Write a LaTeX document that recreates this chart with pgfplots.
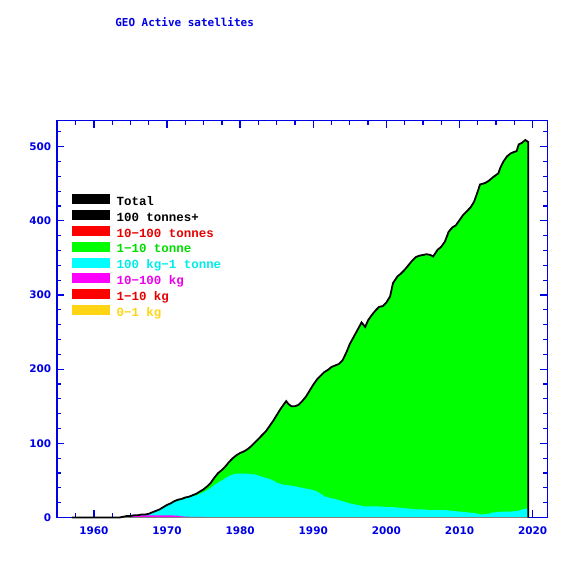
\documentclass[border=0pt]{standalone}
\usepackage{fontspec}
\setmainfont{DejaVu Sans}
\newfontfamily\titlefont{DejaVu Sans Mono}
\newfontfamily\legfont{Liberation Mono}
\usepackage{pgfplots}
\usepackage{pgfplotstable}
\pgfplotsset{compat=1.18}
\definecolor{axblue}{RGB}{0,0,230}
\definecolor{gfill}{RGB}{0,255,0}
\definecolor{cfill}{RGB}{0,255,255}
\definecolor{mfill}{RGB}{255,0,255}
\definecolor{rfill}{RGB}{255,0,0}
\definecolor{yfill}{RGB}{255,212,20}
\definecolor{gtext}{RGB}{0,220,0}
\definecolor{ctext}{RGB}{0,235,235}
\definecolor{mtext}{RGB}{235,0,235}
\definecolor{rtext}{RGB}{230,0,0}

\pgfplotstableread{
x y
1957.0 0
1963.5 0
1964.0 1
1964.5 2
1965.0 2
1965.5 3
1966.0 3
1966.5 4
1967.0 4
1967.5 5
1968.0 7
1968.5 9
1969.0 11
1969.5 14
1970.0 17
1970.5 19
1971.0 22
1971.5 24
1972.0 25
1972.5 27
1973.0 28
1973.5 30
1974.0 32
1974.5 35
1975.0 38
1975.5 42
1976.0 47
1976.5 54
1977.0 60
1977.5 64
1978.0 69
1978.5 75
1979.0 80
1979.5 84
1980.0 87
1980.5 89
1981.0 92
1981.5 96
1982.0 101
1982.5 106
1983.0 111
1983.5 116
1984.0 123
1984.5 130
1985.0 138
1985.5 146
1986.0 153
1986.3 157
1986.6 153
1987.0 150
1987.5 150
1988.0 152
1988.5 157
1989.0 163
1989.5 171
1990.0 179
1990.5 186
1991.0 191
1991.5 196
1992.0 199
1992.5 203
1993.0 205
1993.5 207
1994.0 212
1994.5 222
1995.0 234
1995.5 243
1996.0 252
1996.6 263
1997.1 257
1997.5 266
1998.0 273
1998.5 279
1999.0 284
1999.5 285
2000.0 290
2000.5 298
2000.9 316
2001.5 325
2002.0 329
2002.5 334
2003.0 340
2003.5 346
2004.0 351
2004.5 353
2005.0 354
2005.5 355
2006.0 354
2006.4 352
2007.0 361
2007.5 365
2008.0 372
2008.5 385
2009.0 391
2009.5 394
2010.0 401
2010.5 408
2011.0 413
2011.5 418
2012.0 426
2012.5 440
2012.8 449
2013.5 451
2014.0 454
2014.6 459
2015.3 464
2015.6 472
2016.0 480
2016.5 487
2017.0 491
2017.5 493
2017.8 494
2018.1 503
2018.5 505
2019.0 509
2019.4 506
2019.4 0
}\total

\pgfplotstableread{
x y
1964.0 1
1965.0 2
1966.0 3
1967.0 4
1968.0 7
1969.0 11
1970.0 16
1971.0 21
1972.0 24
1973.0 27
1974.0 30
1975.0 34
1975.5 37
1976.0 40
1976.5 44
1977.0 47
1977.5 50
1978.0 53
1978.5 56
1979.0 58
1979.5 59
1980.0 59
1981.0 59
1982.0 58
1983.0 55
1984.0 52
1984.5 50
1985.0 47
1986.0 44
1987.0 43
1988.0 41
1989.0 39
1990.0 37
1990.5 35
1991.0 32
1991.5 29
1992.0 27
1993.0 25
1994.0 22
1995.0 19
1996.0 17
1997.0 15
1998.0 15
1999.0 15
2000.0 14
2001.0 14
2002.0 13
2003.0 12
2004.0 11
2005.0 11
2006.0 10
2007.0 10
2008.0 10
2009.0 9
2010.0 8
2011.0 7
2012.0 6
2013.0 4
2014.0 5
2014.6 7
2015.0 7
2016.0 8
2017.0 8
2018.0 9
2019.0 12
2019.4 12
}\cyanlayer

\pgfplotstableread{
x y
1965.0 0
1965.5 2.5
1966.0 3
1968.0 3
1970.0 3
1971.5 2.5
1972.0 1.5
1973.0 1
1975.0 1
1975.5 0
}\magentalayer

\pgfplotstableread{
x y
1963.5 0
2019.4 0
}\baseline

\begin{document}
\begin{tikzpicture}
\useasboundingbox (-57.3bp,-58.5bp) rectangle (518.7bp,517.5bp);
\begin{axis}[
  at={(0,0)}, anchor=south west,
  scale only axis, width=490bp, height=396.8bp,
  xmin=1955, xmax=2022, ymin=0, ymax=535,
  clip=false,
  axis on top=false,
  axis line style={axblue, line width=1.6bp},
  xtick={1960,1970,...,2020},
  minor xtick={1957.5,1962.5,1965,1967.5,1972.5,1975,1977.5,1982.5,1985,1987.5,1992.5,1995,1997.5,2002.5,2005,2007.5,2012.5,2015,2017.5},
  ytick={0,100,...,500},
  minor ytick={20,40,...,520},
  tick align=inside,
  xtick pos=both, ytick pos=both,
  xticklabel pos=lower, yticklabel pos=left,
  major tick length=7bp, minor tick length=4bp,
  every tick/.style={axblue, line width=1.3bp},
  every minor tick/.style={axblue, line width=1.3bp},
  /pgf/number format/assume math mode=true,
  /pgf/number format/1000 sep={},
  ticklabel style={font=\bfseries\fontsize{10.5}{12}\selectfont, text=axblue},
  xticklabel style={inner sep=0pt, yshift=-9.5bp},
  yticklabel style={inner sep=0pt, xshift=-6bp},
  title={GEO Active satellites},
  title style={at={(0.118,1.233)}, anchor=west, inner sep=0pt, text=axblue,
    font=\titlefont\bfseries\fontsize{11}{13}\selectfont},
  legend style={at={(0.03,0.815)}, anchor=north west, draw=none, fill=none,
    inner sep=0pt, row sep=1.6bp, column sep=7bp,
    font=\legfont\bfseries\fontsize{12.5}{14}\selectfont,
    nodes={inner sep=0pt, text height=9bp, text depth=3bp}},
  legend cell align=left,
]
\addplot[draw=none, fill=gfill, forget plot] table {\total} \closedcycle;
\addplot[draw=none, fill=cfill, forget plot] table {\cyanlayer} \closedcycle;
\addplot[draw=none, fill=mfill, forget plot] table {\magentalayer} \closedcycle;
\addplot[gray, line width=1bp, forget plot] table {\baseline};
\addplot[black, line width=1.8bp, forget plot] table {\total};

\addlegendimage{legend image code/.code={\fill[black] (0bp,-1bp) rectangle (37bp,8bp);}}
\addlegendentry{\textcolor{black}{Total}}
\addlegendimage{legend image code/.code={\fill[black] (0bp,-1bp) rectangle (37bp,8bp);}}
\addlegendentry{\textcolor{black}{100 tonnes+}}
\addlegendimage{legend image code/.code={\fill[rfill] (0bp,-1bp) rectangle (37bp,8bp);}}
\addlegendentry{\textcolor{rtext}{10−100 tonnes}}
\addlegendimage{legend image code/.code={\fill[gfill] (0bp,-1bp) rectangle (37bp,8bp);}}
\addlegendentry{\textcolor{gtext}{1−10 tonne}}
\addlegendimage{legend image code/.code={\fill[cfill] (0bp,-1bp) rectangle (37bp,8bp);}}
\addlegendentry{\textcolor{ctext}{100 kg−1 tonne}}
\addlegendimage{legend image code/.code={\fill[mfill] (0bp,-1bp) rectangle (37bp,8bp);}}
\addlegendentry{\textcolor{mtext}{10−100 kg}}
\addlegendimage{legend image code/.code={\fill[rfill] (0bp,-1bp) rectangle (37bp,8bp);}}
\addlegendentry{\textcolor{rtext}{1−10 kg}}
\addlegendimage{legend image code/.code={\fill[yfill] (0bp,-1bp) rectangle (37bp,8bp);}}
\addlegendentry{\textcolor{yfill}{0−1 kg}}
\end{axis}
\end{tikzpicture}
\end{document}
